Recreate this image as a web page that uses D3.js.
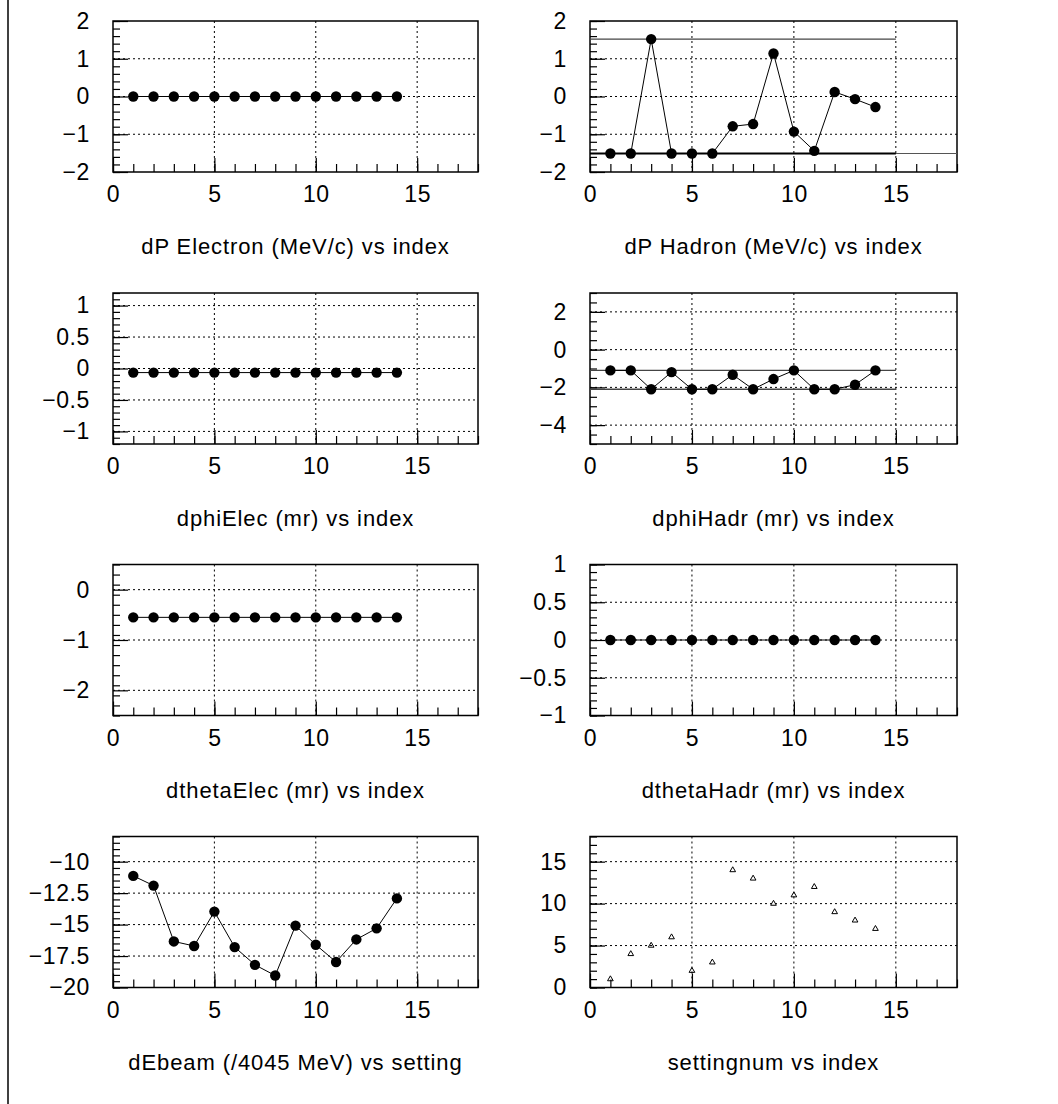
<!DOCTYPE html>
<html>
<head>
<meta charset="utf-8">
<script src="https://cdn.jsdelivr.net/npm/d3@7"></script>
<style>
  body { margin: 0; background: #fff; }
  svg text { font-family: "Liberation Sans", Arial, sans-serif; fill: #000; }
</style>
</head>
<body>
<div id="chart"></div>
<script>
// data
var indexVals   = [1, 2, 3, 4, 5, 6, 7, 8, 9, 10, 11, 12, 13, 14];
var dPElectron  = [0, 0, 0, 0, 0, 0, 0, 0, 0, 0, 0, 0, 0, 0];
var dPHadron    = [-1.51, -1.51, 1.52, -1.51, -1.51, -1.51, -0.79, -0.73, 1.14, -0.93, -1.44, 0.12, -0.07, -0.28];
var dphiElec    = [-0.065, -0.065, -0.065, -0.065, -0.065, -0.065, -0.065, -0.065, -0.065, -0.065, -0.065, -0.065, -0.065, -0.065];
var dphiHadr    = [-1.1, -1.1, -2.1, -1.19, -2.1, -2.1, -1.33, -2.1, -1.56, -1.1, -2.1, -2.1, -1.86, -1.1];
var dthetaElec  = [-0.55, -0.55, -0.55, -0.55, -0.55, -0.55, -0.55, -0.55, -0.55, -0.55, -0.55, -0.55, -0.55, -0.55];
var dthetaHadr  = [0, 0, 0, 0, 0, 0, 0, 0, 0, 0, 0, 0, 0, 0];
var dEbeam      = [-11.13, -11.9, -16.34, -16.7, -13.97, -16.79, -18.2, -19.05, -15.08, -16.6, -17.97, -16.18, -15.3, -12.92];
var settingnum  = [1, 4, 5, 6, 2, 3, 14, 13, 10, 11, 12, 9, 8, 7];

var dPHadronLimits = [1.52, -1.51];
var dphiHadrLimits = [-1.1, -2.1];

var titles = [
	"dP Electron (MeV/c) vs index", "dP Hadron (MeV/c) vs index",
	"dphiElec (mr) vs index", "dphiHadr (mr) vs index",
	"dthetaElec (mr) vs index", "dthetaHadr (mr) vs index",
	"dEbeam (/4045 MeV) vs setting", "settingnum vs index"
];

var xDomain = [0, 18];
var xMajor = [0, 5, 10, 15];
var yDomains = [[-2, 2], [-2, 2], [-1.2, 1.2], [-5, 3], [-2.5, 0.5], [-1, 1], [-20, -8], [0, 18]];
var yMajor = [
	[-2, -1, 0, 1, 2], [-2, -1, 0, 1, 2], [-1, -0.5, 0, 0.5, 1], [-4, -2, 0, 2],
	[-2, -1, 0], [-1, -0.5, 0, 0.5, 1], [-20, -17.5, -15, -12.5, -10], [0, 5, 10, 15]
];
var yMinorStep = [0.2, 0.2, 0.1, 0.5, 0.2, 0.1, 0.5, 1];

var series = [dPElectron, dPHadron, dphiElec, dphiHadr, dthetaElec, dthetaHadr, dEbeam, settingnum];
var limits = [null, dPHadronLimits, null, dphiHadrLimits, null, null, null, null];

//layout
var width = 1058, height = 1104;
var colLeft = [113, 590], colWidth = [365, 367];
var rowTop = [21, 293, 564.5, 836.5], plotH = 151;
var fmt = d3.format('~g');

var svg = d3.select('#chart')
	.append('svg')
	.attr('width', width)
	.attr('height', height);

// page border on the left
svg.append('line')
	.attr('x1', 8).attr('x2', 8)
	.attr('y1', 0).attr('y2', height)
	.attr('stroke', '#000')
	.attr('stroke-width', 1.5);

function steps(lo, hi, step){
	var out = [];
	var n = Math.round((hi - lo) / step);
	for (var i = 0; i <= n; i++) out.push(+(lo + i * step).toFixed(6));
	return out;
}

function drawPanel(p){
	var col = p % 2, row = Math.floor(p / 2);
	var w = colWidth[col];
	var g = svg.append('g')
		.attr('transform', 'translate(' + colLeft[col] + ',' + rowTop[row] + ')');

	var x = d3.scaleLinear().domain(xDomain).range([0, w]);
	var y = d3.scaleLinear().domain(yDomains[p]).range([plotH, 0]);

	// dotted grid at major ticks
	g.append('g').selectAll('line')
		.data(xMajor.filter(function(d){ return d > xDomain[0] && d < xDomain[1]; }))
		.enter().append('line')
		.attr('x1', function(d){ return x(d); })
		.attr('x2', function(d){ return x(d); })
		.attr('y1', 0).attr('y2', plotH)
		.attr('stroke', '#000').attr('stroke-dasharray', '2,3');
	g.append('g').selectAll('line')
		.data(yMajor[p].filter(function(d){ return d > yDomains[p][0] && d < yDomains[p][1]; }))
		.enter().append('line')
		.attr('x1', 0).attr('x2', w)
		.attr('y1', function(d){ return y(d); })
		.attr('y2', function(d){ return y(d); })
		.attr('stroke', '#000').attr('stroke-dasharray', '2,3');

	// minor ticks
	var xMinor = g.append('g')
		.attr('transform', 'translate(0,' + plotH + ')')
		.call(d3.axisBottom(x).tickValues(steps(xDomain[0], xDomain[1], 1)).tickSize(-8).tickFormat(''));
	var yMinor = g.append('g')
		.call(d3.axisLeft(y).tickValues(steps(yDomains[p][0], yDomains[p][1], yMinorStep[p])).tickSize(-7).tickFormat(''));

	// major ticks + labels
	var xAx = g.append('g')
		.attr('transform', 'translate(0,' + plotH + ')')
		.call(d3.axisBottom(x).tickValues(xMajor).tickSize(-14).tickPadding(14).tickFormat(fmt));
	var yAx = g.append('g')
		.call(d3.axisLeft(y).tickValues(yMajor[p]).tickSize(-15).tickPadding(23).tickFormat(fmt));

	[xMinor, yMinor, xAx, yAx].forEach(function(a){
		a.attr('font-size', null).attr('font-family', null);
		a.select('.domain').remove();
		a.selectAll('.tick line').attr('stroke', '#000').attr('stroke-width', 1.2);
		a.selectAll('text')
			.style('font-size', '23px')
			.style('letter-spacing', '0.6px')
			.attr('fill', '#000');
	});

	// frame
	g.append('rect')
		.attr('x', 0).attr('y', 0)
		.attr('width', w).attr('height', plotH)
		.attr('fill', 'none')
		.attr('stroke', '#000')
		.attr('stroke-width', 1.5);

	// limit lines
	if (limits[p]){
		if (p === 1){
			g.append('line')
				.attr('x1', x(0)).attr('x2', w)
				.attr('y1', y(limits[p][1])).attr('y2', y(limits[p][1]))
				.attr('stroke', '#555').attr('stroke-width', 1);
		}
		g.append('g').selectAll('line')
			.data(limits[p])
			.enter().append('line')
			.attr('x1', x(0)).attr('x2', x(15))
			.attr('y1', function(d){ return y(d); })
			.attr('y2', function(d){ return y(d); })
			.attr('stroke', function(d, i){ return (p === 1 && i === 1) ? '#000' : '#444'; })
			.attr('stroke-width', function(d, i){ return (p === 1 && i === 1) ? 2 : 1.3; });
	}

	var pts = indexVals.map(function(d, i){ return {x: d, y: series[p][i]}; });

	if (p === 7){
		// open triangles, no line
		g.append('g').selectAll('path')
			.data(pts)
			.enter().append('path')
			.attr('d', d3.symbol().type(d3.symbolTriangle).size(14))
			.attr('transform', function(d){ return 'translate(' + x(d.x) + ',' + y(d.y) + ')'; })
			.attr('fill', 'none')
			.attr('stroke', '#000')
			.attr('stroke-width', 1);
	} else {
		g.append('path')
			.datum(pts)
			.attr('d', d3.line().x(function(d){ return x(d.x); }).y(function(d){ return y(d.y); }))
			.attr('fill', 'none')
			.attr('stroke', '#000')
			.attr('stroke-width', 1);
		g.append('g').selectAll('circle')
			.data(pts)
			.enter().append('circle')
			.attr('cx', function(d){ return x(d.x); })
			.attr('cy', function(d){ return y(d.y); })
			.attr('r', 5.2)
			.attr('fill', '#000');
	}

	// title under the panel
	g.append('text')
		.attr('x', w / 2)
		.attr('y', plotH + 82)
		.attr('text-anchor', 'middle')
		.style('font-size', '22px')
		.style('letter-spacing', '0.9px')
		.text(titles[p]);
}

for (var p = 0; p < 8; p++) drawPanel(p);
</script>
</body>
</html>
